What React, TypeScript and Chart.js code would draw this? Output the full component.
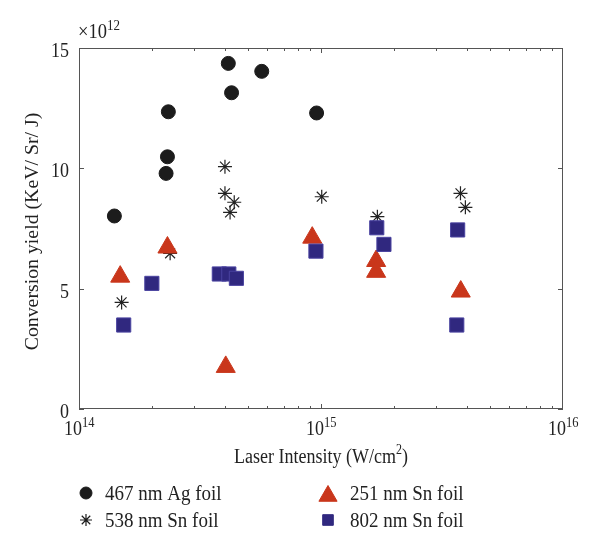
import React, { useEffect, useRef } from "react";
import { Chart, registerables } from "chart.js";
import { drawPoint } from "chart.js/helpers";

Chart.register(...registerables);

// Data (x in W/cm^2, y in units of 1e12 KeV/Sr/J)
const agX = [1.40e14, 2.29e14, 2.32e14, 2.34e14, 4.14e14, 4.27e14, 5.69e14, 9.59e14];
const agY = [8.02, 9.79, 10.48, 12.35, 14.36, 13.14, 14.03, 12.3];

const sn538X = [1.5e14, 2.38e14, 4.01e14, 4.01e14, 4.38e14, 4.21e14, 1.007e15, 1.71e15, 3.77e15, 3.95e15];
const sn538Y = [4.43, 6.47, 10.07, 8.96, 8.59, 8.17, 8.82, 7.99, 8.96, 8.38];

const sn251X = [1.48e14, 2.32e14, 4.04e14, 9.2e14, 1.69e15, 1.69e15, 3.78e15];
const sn251Y = [5.5, 6.71, 1.75, 7.12, 6.15, 5.7, 4.88];

const sn802X = [1.53e14, 2.0e14, 3.8e14, 4.16e14, 4.47e14, 9.53e14, 1.7e15, 1.82e15, 3.67e15, 3.64e15];
const sn802Y = [3.49, 5.22, 5.61, 5.61, 5.43, 6.56, 7.53, 6.84, 7.44, 3.49];

const seriesLabels = ["467 nm Ag foil", "538 nm Sn foil", "251 nm Sn foil", "802 nm Sn foil"];
const yTicks = [0, 5, 10, 15];
const xMajorExp = [14, 15, 16];
const yTitle = "Conversion yield (KeV/ Sr/ J)";
const xTitleMain = "Laser Intensity (W/cm";
const xTitleSup = "2";
const xTitleEnd = ")";

const FONT = "'Liberation Serif', 'DejaVu Serif', serif";
const TEXT = "#222";
const AXIS = "#555";
const BLACK = "#1c1c1c";
const RED = "#c9361b";
const BLUE = "#30287f";
const STRETCH = 1.14;

const pts = (xs: number[], ys: number[]) => xs.map((x, i) => ({ x, y: ys[i] }));

function txt(ctx: CanvasRenderingContext2D, s: string, x: number, y: number, size: number) {
  ctx.save();
  ctx.font = `${size}px ${FONT}`;
  ctx.translate(x, y);
  ctx.scale(1, STRETCH);
  ctx.fillText(s, 0, 0);
  ctx.restore();
}

function width(ctx: CanvasRenderingContext2D, s: string, size: number) {
  ctx.font = `${size}px ${FONT}`;
  return ctx.measureText(s).width;
}

const framePlugin = {
  id: "frame",
  afterDatasetsDraw(chart: any) {
    const ctx = chart.ctx as CanvasRenderingContext2D;
    const { left, right, top, bottom } = chart.chartArea;
    const xs = chart.scales.x;
    const ys = chart.scales.y;
    ctx.save();
    // box
    ctx.strokeStyle = AXIS;
    ctx.lineWidth = 1;
    ctx.strokeRect(left + 0.5, top + 0.5, right - left - 1, bottom - top - 1);
    // y ticks
    ctx.beginPath();
    yTicks.forEach((v) => {
      const py = Math.round(ys.getPixelForValue(v)) + 0.5;
      ctx.moveTo(left, py);
      ctx.lineTo(left + 5, py);
      ctx.moveTo(right, py);
      ctx.lineTo(right - 5, py);
    });
    // x ticks (major + minor, log)
    for (let e = 14; e < 16; e++) {
      for (let m = 1; m <= 9; m++) {
        const v = m * Math.pow(10, e);
        const px = Math.round(xs.getPixelForValue(v)) + 0.5;
        const len = m === 1 ? 5 : 3;
        ctx.moveTo(px, bottom);
        ctx.lineTo(px, bottom - len);
        ctx.moveTo(px, top);
        ctx.lineTo(px, top + len);
      }
    }
    ctx.stroke();

    ctx.fillStyle = TEXT;
    ctx.textBaseline = "alphabetic";
    // y tick labels
    ctx.textAlign = "right";
    yTicks.forEach((v) => {
      const py = ys.getPixelForValue(v);
      txt(ctx, String(v), left - 10, py + 9, 18);
    });
    // x tick labels 10^e
    ctx.textAlign = "left";
    xMajorExp.forEach((e) => {
      const px = xs.getPixelForValue(Math.pow(10, e));
      const w1 = width(ctx, "10", 18);
      const w2 = width(ctx, String(e), 12);
      const start = px - (w1 + w2) / 2;
      txt(ctx, "10", start, bottom + 26, 18);
      txt(ctx, String(e), start + w1, bottom + 18, 12.5);
    });
    // x10^12 multiplier
    const wm = width(ctx, "\u00d710", 18.5);
    txt(ctx, "\u00d710", left - 1, top - 10, 18.5);
    txt(ctx, "12", left - 1 + wm, top - 18, 13);

    // x title
    const wa = width(ctx, xTitleMain, 18);
    const wb = width(ctx, xTitleSup, 12);
    const wc = width(ctx, xTitleEnd, 18);
    const cx = (left + right) / 2;
    const sx = cx - (wa + wb + wc) / 2;
    txt(ctx, xTitleMain, sx, 463, 18);
    txt(ctx, xTitleSup, sx + wa, 454, 12);
    txt(ctx, xTitleEnd, sx + wa + wb, 463, 18);

    // y title
    ctx.save();
    ctx.translate(38, (top + bottom) / 2 + 3);
    ctx.rotate(-Math.PI / 2);
    ctx.scale(1.1, 1);
    ctx.textAlign = "center";
    ctx.font = `18px ${FONT}`;
    ctx.fillText(yTitle, 0, 0);
    ctx.restore();

    // legend
    const items = [
      { style: "circle", r: 6, fill: BLACK, stroke: BLACK, bw: 1, x: 86, y: 493 },
      { style: "star", r: 6, fill: BLACK, stroke: BLACK, bw: 1.2, x: 86, y: 520 },
      { style: "triangle", r: 10.5, fill: RED, stroke: RED, bw: 1, x: 328, y: 496 },
      { style: "rect", r: 7.5, fill: BLUE, stroke: BLUE, bw: 1, x: 328, y: 520 },
    ];
    items.forEach((it, i) => {
      ctx.fillStyle = it.fill;
      ctx.strokeStyle = it.stroke;
      ctx.lineWidth = it.bw;
      drawPoint(ctx, { pointStyle: it.style as any, radius: it.r, rotation: 0, borderWidth: it.bw }, it.x, it.y);
      ctx.fillStyle = TEXT;
      ctx.textAlign = "left";
      txt(ctx, seriesLabels[i], it.x + 19 + (i >= 2 ? 3 : 0), (i % 2 === 0 ? 493 : 520) + 7, 19);
    });
    ctx.restore();
  },
};

export default function App() {
  const ref = useRef<HTMLCanvasElement | null>(null);
  useEffect(() => {
    if (!ref.current) return;
    const chart = new Chart(ref.current, {
      type: "scatter",
      data: {
        datasets: [
          {
            label: seriesLabels[0],
            data: pts(agX, agY),
            pointStyle: "circle",
            pointRadius: 7,
            backgroundColor: BLACK,
            borderColor: BLACK,
            borderWidth: 1,
            order: 4,
          },
          {
            label: seriesLabels[1],
            data: pts(sn538X, sn538Y),
            pointStyle: "star",
            pointRadius: 7,
            backgroundColor: BLACK,
            borderColor: "#222",
            borderWidth: 1.2,
            order: 3,
          },
          {
            label: seriesLabels[2],
            data: pts(sn251X, sn251Y),
            pointStyle: "triangle",
            pointRadius: 11,
            backgroundColor: RED,
            borderColor: RED,
            borderWidth: 1,
            order: 2,
          },
          {
            label: seriesLabels[3],
            data: pts(sn802X, sn802Y),
            pointStyle: "rect",
            pointRadius: 10,
            backgroundColor: BLUE,
            borderColor: "#4a43a0",
            borderWidth: 1,
            order: 1,
          },
        ],
      },
      options: {
        responsive: false,
        animation: false,
        events: [],
        layout: { padding: { left: 79, right: 37, top: 48, bottom: 139 } },
        plugins: { legend: { display: false }, tooltip: { enabled: false } },
        scales: {
          x: { type: "logarithmic", min: 1e14, max: 1e16, display: false },
          y: { type: "linear", min: 0, max: 15, display: false },
        },
      },
      plugins: [framePlugin],
    });
    return () => chart.destroy();
  }, []);
  return (
    <div style={{ position: "absolute", left: 0, top: 0, width: 600, height: 548, background: "#fff" }}>
      <canvas ref={ref} width={600} height={548} style={{ width: 600, height: 548 }} />
    </div>
  );
}
